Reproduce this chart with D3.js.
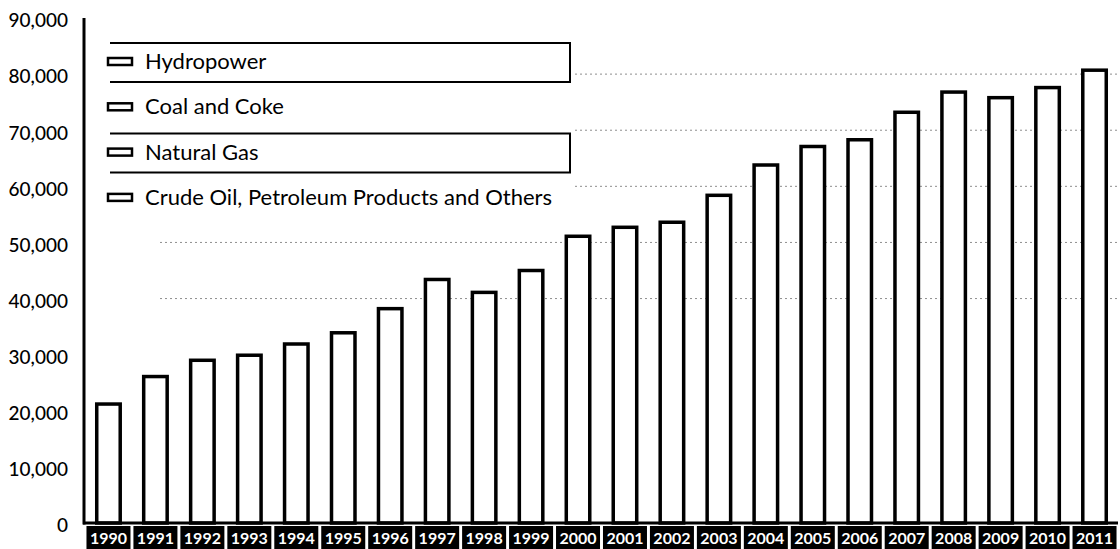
<!DOCTYPE html>
<html>
<head>
<meta charset="utf-8">
<script src="https://cdn.jsdelivr.net/npm/d3@7"></script>
<style>
  html, body { margin: 0; padding: 0; background: #fff; }
  svg { display: block; font-family: Lato, "Open Sans", sans-serif; }
</style>
</head>
<body>
<svg id="chart" width="1120" height="549"></svg>
<script>
// Annual totals, 1990–2011
const years = ["1990","1991","1992","1993","1994","1995","1996","1997","1998","1999","2000",
               "2001","2002","2003","2004","2005","2006","2007","2008","2009","2010","2011"];
const totals = [21200, 26100, 29000, 29900, 31900, 33900, 38200, 43400, 41100, 45000, 51100,
                52700, 53600, 58400, 63800, 67100, 68300, 73200, 76800, 75800, 77600, 80700];
const yTicks = [0, 10000, 20000, 30000, 40000, 50000, 60000, 70000, 80000, 90000];
const gridValues = [40000, 50000, 60000, 70000, 80000];
const legendItems = ["Hydropower", "Coal and Coke", "Natural Gas", "Crude Oil, Petroleum Products and Others"];
const boxedLegendItems = ["Hydropower", "Natural Gas"];

const svg = d3.select("#chart");
const W = 1120, H = 549;
const x0 = 85, x1 = 1118, yBase = 523, yTop = 18;

const x = d3.scaleBand().domain(years).range([x0, x1]).paddingInner(0.5).paddingOuter(0.25);
const y = d3.scaleLinear().domain([0, 90000]).range([yBase, yTop]);

// dotted gridlines (behind everything)
svg.append("g").selectAll("line").data(gridValues).join("line")
  .attr("x1", 160).attr("x2", W)
  .attr("y1", d => y(d)).attr("y2", d => y(d))
  .attr("stroke", "#444").attr("stroke-width", 1)
  .attr("stroke-dasharray", "2,3").attr("opacity", 0.6);

// legend panel
const legend = svg.append("g");
legend.append("rect").attr("x", 95).attr("y", 34).attr("width", 478).attr("height", 180).attr("fill", "#fff");
const rowY = i => 69 + i * 45.3;
legendItems.forEach((name, i) => {
  const by = rowY(i);
  if (boxedLegendItems.includes(name)) {
    legend.append("path")
      .attr("d", `M110,${by - 26} H570 V${by + 13} H110`)
      .attr("fill", "none").attr("stroke", "#000").attr("stroke-width", 2);
  }
  legend.append("rect")
    .attr("x", 108).attr("y", by - 11).attr("width", 24).attr("height", 7)
    .attr("fill", "#fff").attr("stroke", "#000").attr("stroke-width", 2.5);
  legend.append("text")
    .attr("x", 145).attr("y", by)
    .attr("font-size", 22).attr("fill", "#000")
    .text(name);
});

// bars
svg.append("g").selectAll("rect").data(totals).join("rect")
  .attr("x", (d, i) => x(years[i]))
  .attr("y", d => y(d))
  .attr("width", x.bandwidth())
  .attr("height", d => y(0) - y(d))
  .attr("fill", "#fff").attr("stroke", "#000").attr("stroke-width", 3.5);

// y axis
const yAxis = d3.axisLeft(y).tickValues(yTicks).tickSize(0).tickPadding(0)
  .tickFormat(d3.format(","));
const gy = svg.append("g").attr("transform", `translate(${x0},0)`).call(yAxis);
gy.select(".domain").remove();
gy.selectAll("text")
  .attr("x", -17).attr("y", 2).attr("dy", "0.36em")
  .attr("font-size", 19).attr("font-family", "Lato, sans-serif")
  .attr("font-weight", 500).attr("fill", "#000");
svg.append("line").attr("x1", x0 - 1).attr("x2", x0 - 1).attr("y1", yTop).attr("y2", yBase + 1.5)
  .attr("stroke", "#000").attr("stroke-width", 3);
svg.append("line").attr("x1", x0 - 2).attr("x2", x1).attr("y1", yBase).attr("y2", yBase)
  .attr("stroke", "#000").attr("stroke-width", 3);

// x axis: white year labels on black tabs
const xAxis = d3.axisBottom(x).tickSize(0).tickPadding(0);
const gx = svg.append("g").attr("transform", `translate(0,${yBase})`).call(xAxis);
gx.select(".domain").remove();
gx.selectAll(".tick").insert("rect", "text")
  .attr("x", -22).attr("y", 3).attr("width", 44).attr("height", 26)
  .attr("fill", "#000");
gx.selectAll(".tick text")
  .attr("y", 21).attr("dy", 0)
  .attr("font-size", 16).attr("font-family", "Lato, sans-serif")
  .attr("font-weight", 700).attr("fill", "#fff");
</script>
</body>
</html>
